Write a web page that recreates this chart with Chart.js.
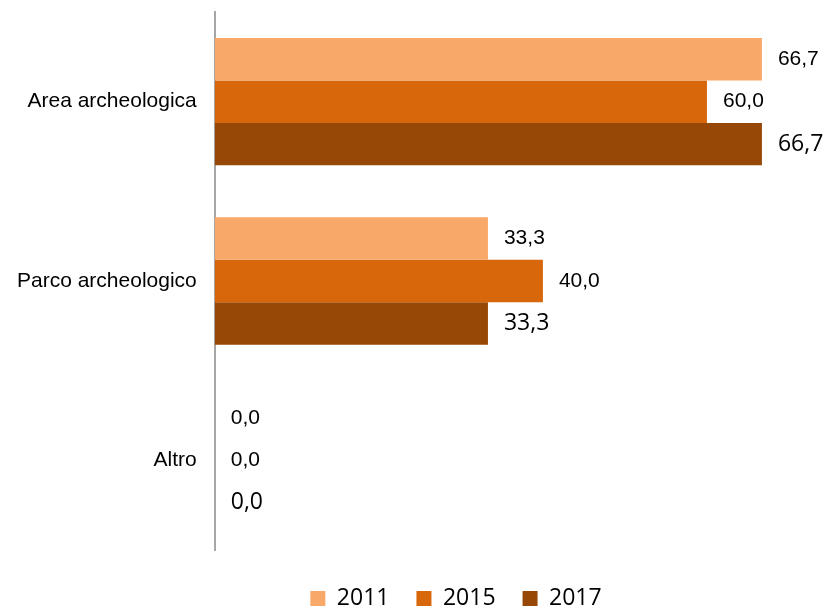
<!DOCTYPE html>
<html>
<head>
<meta charset="utf-8">
<script src="https://cdn.jsdelivr.net/npm/chart.js@4"></script>
<style>
  html, body { margin: 0; padding: 0; background: #fff; }
  #wrap { width: 827px; height: 609px; }
</style>
</head>
<body>
<div id="wrap"><canvas id="barChart"></canvas></div>
<script>
const categories = ['Area archeologica', 'Parco archeologico', 'Altro'];
const years = ['2011', '2015', '2017'];
const values2011 = [66.7, 33.3, 0.0];
const values2015 = [60.0, 40.0, 0.0];
const values2017 = [66.7, 33.3, 0.0];

const colors = ['#F8A869', '#D8660A', '#984806'];
const labelFonts = [
    '21px "Liberation Sans", Arial, sans-serif',
    '21px "Liberation Sans", Arial, sans-serif',
    '23px "Open Sans", sans-serif'
];
const legendShift = 58; // la legenda nell'originale non e' centrata sulla tela

// etichette dei valori a destra delle barre, con la virgola decimale
const valueLabels = {
    id: 'valueLabels',
    afterLayout(chart) {
        if (chart.legend) {
            chart.legend.left += legendShift;
            chart.legend.right += legendShift;
        }
    },
    afterDatasetsDraw(chart) {
        const ctx = chart.ctx;
        ctx.save();
        ctx.fillStyle = '#000';
        ctx.textAlign = 'left';
        ctx.textBaseline = 'middle';
        chart.data.datasets.forEach((ds, i) => {
            const meta = chart.getDatasetMeta(i);
            ctx.font = labelFonts[i];
            meta.data.forEach((bar, j) => {
                const txt = ds.data[j].toFixed(1).replace('.', ',');
                ctx.fillText(txt, bar.x + 16, bar.y);
            });
        });
        ctx.restore();
    }
};

const ctx = document.getElementById('barChart').getContext('2d');
new Chart(ctx, {
    type: 'bar',
    data: {
        labels: categories,
        datasets: [
            { label: years[0], data: values2011, backgroundColor: colors[0] },
            { label: years[1], data: values2015, backgroundColor: colors[1] },
            { label: years[2], data: values2017, backgroundColor: colors[2] }
        ]
    },
    options: {
        indexAxis: 'y',
        responsive: true,
        maintainAspectRatio: false,
        animation: false,
        datasets: {
            bar: { categoryPercentage: 0.71, barPercentage: 1.0 }
        },
        layout: { padding: { top: 12, right: 38, left: 7, bottom: 0 } },
        scales: {
            x: {
                min: 0, max: 70,
                grid: { display: false },
                border: { display: false },
                ticks: { display: false },
                afterFit(scale) { scale.height = 10; }
            },
            y: {
                grid: { display: false },
                border: { display: true, color: '#A6A6A6', width: 2 },
                ticks: {
                    color: '#000',
                    padding: 10,
                    font: { family: '"Liberation Sans", Arial, sans-serif', size: 21 }
                },
                afterFit(scale) {
                    scale.paddingTop = 0;
                    scale.paddingBottom = 0;
                }
            }
        },
        plugins: {
            tooltip: { enabled: false },
            legend: {
                position: 'bottom',
                maxHeight: 49,
                labels: {
                    color: '#000',
                    boxWidth: 15,
                    boxHeight: 15,
                    padding: 27,
                    font: { family: '"Open Sans", sans-serif', size: 23 }
                }
            }
        }
    },
    plugins: [valueLabels]
});
</script>
</body>
</html>
